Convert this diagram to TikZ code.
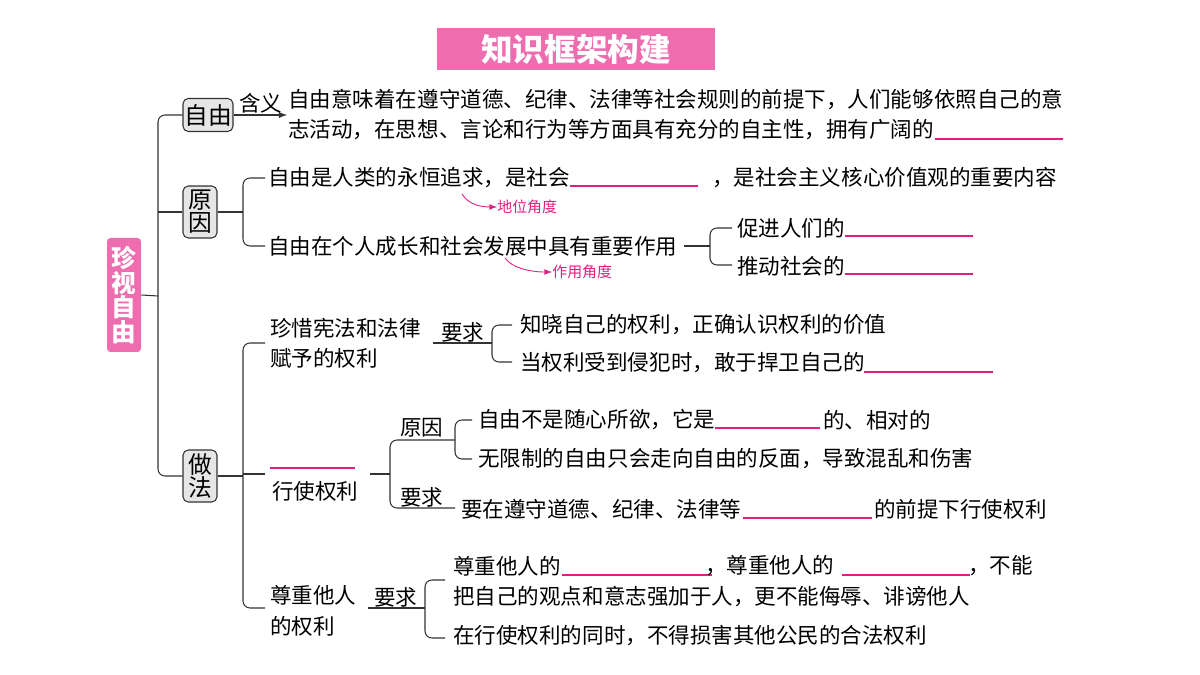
\documentclass[tikz,border=0pt]{standalone}
\usepackage{fontspec}
\setmainfont{Noto Sans CJK SC}
\definecolor{pk}{HTML}{EE6DAE}
\definecolor{mg}{HTML}{E0207F}
\definecolor{gb}{HTML}{E6E6E6}
\begin{document}
\begin{tikzpicture}[x=0.02cm,y=-0.02cm,
 t/.style={anchor=west,inner sep=0,font=\fontsize{12.25}{14}\selectfont},
 gbox/.style={draw=black!80,fill=gb,rounded corners=3pt,inner sep=0,line width=0.6pt,font=\fontsize{13.5}{15}\selectfont},
 ln/.style={line width=0.6pt,black!80},
 br/.style={ln,rounded corners=4pt},
 blank/.style={mg,line width=0.6pt},
 ann/.style={mg,font=\fontsize{8.5}{10}\selectfont,anchor=west,inner sep=0}]
\useasboundingbox (0,0) rectangle (1200,675);
% title
\node[fill=pk,minimum width=278*0.02cm,minimum height=42*0.02cm,text=white,font=\bfseries\fontsize{18}{20}\selectfont] (title) at (576,49) {知识框架构建};
\node[fill=pk,rounded corners=2pt,minimum width=34*0.02cm,minimum height=114*0.02cm,text=white,font=\bfseries\fontsize{14}{16}\selectfont,align=center,inner sep=0] (root) at (124,295) {珍\\[-2pt]视\\[-2pt]自\\[-2pt]由};
\node[gbox,minimum width=50*0.02cm,minimum height=33*0.02cm] (zy) at (208,115) {自由};
\node[gbox,minimum width=34*0.02cm,minimum height=52*0.02cm,align=center] (yy) at (200,212) {原\\[-2pt]因};
\node[gbox,minimum width=34*0.02cm,minimum height=52*0.02cm,align=center] (zf) at (200,476) {做\\[-2pt]法};
\coordinate (trunk) at (158,296);
\draw[ln] (root.east) -- (trunk);
\draw[br] (zy.west) -- (158,115) -- (158,476) -- (zf.west);
\draw[ln] (158,212) -- (yy.west);
% 自由
\draw[ln,-latex] (zy.east) -- (287,115);
\node[t] (hy) at (239,103) {含义};
\node[t] (d1) at (288,100) {自由意味着在遵守道德、纪律、法律等社会规则的前提下，人们能够依照自己的意};
\node[t] (d2) at (288,130) {志活动，在思想、言论和行为等方面具有充分的自主性，拥有广阔的};
\draw[blank] (935,139) -- (1063,139);
% 原因
\draw[ln] (yy.east) -- (243,212);
\draw[br] (265,178) -- (243,178) -- (243,246) -- (265,246);
\node[t] (r1) at (268,178) {自由是人类的永恒追求，是社会};
\draw[blank] (570,186) -- (698,186);
\node[t] (r1b) at (712,178) {，是社会主义核心价值观的重要内容};
\node[ann] (a1) at (497,207) {地位角度};
\draw[mg,-latex,line width=0.5pt] (462,194) .. controls (468,204) and (480,207) .. (a1.west);
\node[t] (r2) at (268,246) {自由在个人成长和社会发展中具有重要作用};
\draw[ln] (684,246) -- (710,246);
\draw[br] (732,228) -- (710,228) -- (710,265) -- (732,265);
\node[t] (p1) at (737,228) {促进人们的};
\draw[blank] (845,236) -- (973,236);
\node[t] (p2) at (737,266) {推动社会的};
\draw[blank] (845,274) -- (973,274);
\node[ann] (a2) at (552,272) {作用角度};
\draw[mg,-latex,line width=0.5pt] (505,258) .. controls (512,268) and (530,272) .. (a2.west);
% 做法
\draw[ln] (zf.east) -- (243,476);
\draw[br] (265,343) -- (243,343) -- (243,608) -- (265,608);
\draw[ln] (243,474) -- (265,474);
% 珍惜
\node[t] (z1) at (270,328) {珍惜宪法和法律};
\node[t] (z2) at (270,358) {赋予的权利};
\node[t] (yq1) at (441,332) {要求};
\draw[ln] (433,343) -- (492,343);
\draw[br] (512,325) -- (492,325) -- (492,362) -- (512,362);
\node[t] (k1) at (520,325) {知晓自己的权利，正确认识权利的价值};
\node[t] (k2) at (520,363) {当权利受到侵犯时，敢于捍卫自己的};
\draw[blank] (864,372) -- (993,372);
% 行使权利
\draw[mg,line width=0.6pt] (270,468) -- (355,468);
\node[t] (xs) at (272,491) {行使权利};
\draw[ln] (370,474) -- (390,474);
\draw[br] (455,440) -- (390,440) -- (390,508) -- (455,508);
\node[t] (yy2) at (400,428) {原因};
\node[t] (yq2) at (400,497) {要求};
\draw[br] (472,420) -- (455,420) -- (455,459) -- (472,459);
\node[t] (c1) at (478,420) {自由不是随心所欲，它是};
\draw[blank] (715,428) -- (820,428);
\node[t] (c1b) at (823,420) {的、相对的};
\node[t] (c2) at (478,459) {无限制的自由只会走向自由的反面，导致混乱和伤害};
\node[t] (q1) at (461,509) {要在遵守道德、纪律、法律等};
\draw[blank] (743,518) -- (872,518);
\node[t] (q1b) at (874,509) {的前提下行使权利};
% 尊重
\node[t] (s1) at (270,595) {尊重他人};
\node[t] (s2) at (270,626) {的权利};
\node[t] (yq3) at (374,597) {要求};
\draw[ln] (368,608) -- (425,608);
\draw[br] (445,580) -- (425,580) -- (425,638) -- (445,638);
\node[t] (e1) at (453,566) {尊重他人的};
\draw[blank] (562,575) -- (712,575);
\node[t] (e1b) at (705,566) {，尊重他人的};
\draw[blank] (842,575) -- (970,575);
\node[t] (e1c) at (968,566) {，不能};
\node[t] (e2) at (453,597) {把自己的观点和意志强加于人，更不能侮辱、诽谤他人};
\node[t] (e3) at (453,636) {在行使权利的同时，不得损害其他公民的合法权利};
\end{tikzpicture}
\end{document}
